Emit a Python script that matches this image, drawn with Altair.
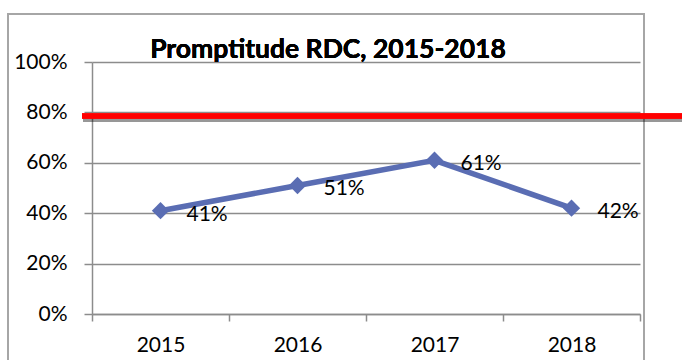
import altair as alt
import pandas as pd

years = ["2015", "2016", "2017", "2018"]
values = [0.41, 0.51, 0.61, 0.42]
y_ticks = [0, 0.2, 0.4, 0.6, 0.8, 1.0]
title_text = "Promptitude RDC, 2015-2018"

df = pd.DataFrame({"year": years, "value": values})

FONT = "Lato"
LINE_COLOR = "#5A6DB3"
GRID = "#8C8C8C"

x_enc = alt.X(
    "year:O",
    scale=alt.Scale(type="band", paddingInner=0, paddingOuter=0),
    bandPosition=0.5,
    axis=alt.Axis(
        title=None, labelAngle=0, tickBand="extent", grid=False,
        domain=True, domainColor=GRID, domainWidth=1.5,
        ticks=True, tickColor=GRID, tickWidth=1.5, tickSize=7,
        labelFont=FONT, labelFontSize=21, labelColor="#000000",
        labelPadding=13,
    ),
)
y_enc = alt.Y(
    "value:Q",
    scale=alt.Scale(domain=[0, 1], nice=False),
    axis=alt.Axis(
        title=None, values=y_ticks, format=".0%",
        grid=True, gridColor=GRID, gridWidth=1.5,
        domain=True, domainColor=GRID, domainWidth=1.5,
        ticks=True, tickColor=GRID, tickWidth=1.5, tickSize=8,
        labelFont=FONT, labelFontSize=21, labelColor="#000000",
        labelPadding=17,
    ),
)

base = alt.Chart(df)

line = base.mark_line(color=LINE_COLOR, strokeWidth=5.5).encode(x=x_enc, y=y_enc)
points = base.mark_point(shape="diamond", filled=True, size=300, color=LINE_COLOR, opacity=1).encode(
    x=alt.X("year:O", bandPosition=0.5), y="value:Q"
)
labels = base.mark_text(
    align="left", baseline="middle", dx=26, dy=4, font=FONT, fontSize=21, color="#000000"
).encode(
    x=alt.X("year:O", bandPosition=0.5), y="value:Q", text=alt.Text("value:Q", format=".0%")
)

frame = base.mark_rect(fill=None, stroke="#A6A6A6", strokeWidth=2).encode(
    x=alt.value(-84), x2=alt.value(552), y=alt.value(-48), y2=alt.value(320)
)

title = base.mark_text(
    text=title_text, font=FONT, fontSize=26.5, fontWeight="bold", color="#000000",
    align="center", baseline="alphabetic"
).encode(x=alt.value(236), y=alt.value(-4))

shadow = base.mark_rule(stroke="#000000", strokeWidth=4, opacity=0.12).encode(
    x=alt.value(-9), x2=alt.value(590), y=alt.value(58)
)
red = base.mark_rule(stroke="#FF0000", strokeWidth=5).encode(
    x=alt.value(-10), x2=alt.value(590), y=alt.value(54)
)

chart = (
    alt.layer(frame, line, points, labels, title, shadow, red)
    .properties(
        width=548, height=252,
        autosize=alt.AutoSizeParams(type="none"),
        padding={"left": 92, "top": 62, "right": 42, "bottom": 46},
        background="#FFFFFF",
    )
    .configure_view(stroke=None)
)

chart.save("out.html", embed_options={"renderer": "svg", "actions": False})
